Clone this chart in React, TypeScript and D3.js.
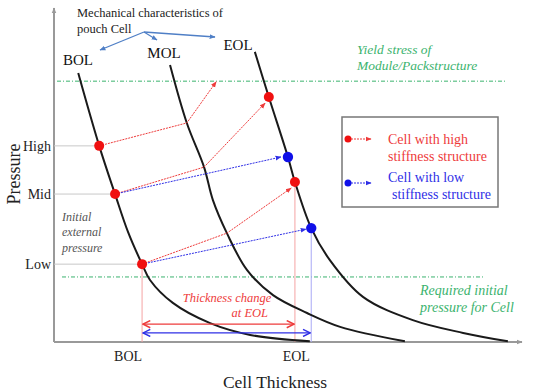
import React from "react";
import * as d3 from "d3";

const W = 542;
const H = 392;

// curves: [thickness, pressure] in chart units (0..100)
const bolCurve: [number, number][] = [
  [5.2, 79.8], [9.7, 58.2], [13.1, 43.9], [15.9, 32.6], [18.9, 23.1],
  [20.6, 18.4], [25.5, 11.6], [33.5, 5.6], [42.1, 2.1], [54.9, 0.2],
];
const molCurve: [number, number][] = [
  [24.9, 82.2], [28.5, 65.0], [32.2, 51.9], [34.1, 42.1], [37.1, 32.3],
  [41.4, 21.4], [47.0, 13.9], [54.3, 8.6], [61.4, 4.5], [75.3, 0.2],
];
const eolCurve: [number, number][] = [
  [43.1, 86.1], [46.1, 72.7], [50.2, 54.9], [51.7, 47.5], [55.2, 33.8],
  [59.2, 24.3], [66.3, 13.4], [77.0, 6.5], [87.8, 2.7], [97.4, 0.2],
];

const levelNames = ["High", "Mid", "Low"];
const levelPressure = [58.2, 43.9, 23.1];
const levelThickness = [9.7, 13.1, 18.9];

const yieldPressure = 77.4;
const requiredPressure = 19.3;

const redPaths: [number, number][][] = [
  [[9.7, 58.2], [28.5, 65.0], [34.8, 77.2]],
  [[13.1, 43.9], [32.2, 51.9], [45.3, 70.9]],
  [[18.9, 23.1], [37.1, 32.3], [50.9, 45.7]],
];
const bluePaths: [number, number][][] = [
  [[13.1, 43.9], [48.7, 54.9]],
  [[18.9, 23.1], [54.1, 33.5]],
];
const redDots: [number, number][] = [[9.7, 58.2], [13.1, 43.9], [18.9, 23.1], [46.1, 72.7], [51.7, 47.5]];
const blueDots: [number, number][] = [[50.2, 54.9], [55.2, 33.8]];

const bolThick = 18.9;
const eolThickHigh = 51.7;
const eolThickLow = 55.2;
const eolPressHigh = 47.5;
const eolPressLow = 33.8;

const xTickLabels = ["BOL", "EOL"];
const xTickPos = [15.9, 52.0];

const RED = "#ee3b3b";
const BLUE = "#2f2fe6";
const GREEN = "#3bb36e";
const SERIF = "Liberation Serif, Times New Roman, Times, serif";

export default function App() {
  const x = d3.scaleLinear().domain([0, 100]).range([54, 520]);
  const y = d3.scaleLinear().domain([0, 100]).range([342, 5]);
  const curve = d3
    .line<[number, number]>()
    .x((d) => x(d[0]))
    .y((d) => y(d[1]))
    .curve(d3.curveCatmullRom.alpha(0.5));
  const poly = d3
    .line<[number, number]>()
    .x((d) => x(d[0]))
    .y((d) => y(d[1]));

  const x0 = x(0);
  const y0 = y(0);

  return (
    <svg width={W} height={H} style={{ position: "absolute", left: 0, top: 0, background: "#fff", fontFamily: SERIF }}>
      <defs>
        {[["redHead", RED], ["blueHead", BLUE], ["grayHead", "#999"], ["steelHead", "#4f7fc6"]].map(([id, c]) => (
          <marker key={id} id={id} viewBox="0 0 10 10" refX="9" refY="5" markerWidth="6" markerHeight="6" orient="auto" markerUnits="userSpaceOnUse">
            <path d="M0,1 L10,5 L0,9 z" fill={c} />
          </marker>
        ))}
        {[["redChev", RED], ["blueChev", BLUE]].map(([id, c]) => (
          <marker key={id} id={id} viewBox="0 0 10 10" refX="9" refY="5" markerWidth="9" markerHeight="9" orient="auto-start-reverse" markerUnits="userSpaceOnUse">
            <path d="M1,1 L9,5 L1,9" fill="none" stroke={c} strokeWidth="1.6" />
          </marker>
        ))}
      </defs>

      {/* axes */}
      <line x1={x0} y1={y0} x2={x0} y2={8} stroke="#999" strokeWidth={2} markerEnd="url(#grayHead)" />
      <line x1={x0} y1={y0} x2={522} y2={y0} stroke="#999" strokeWidth={2} markerEnd="url(#grayHead)" />

      {/* gridlines to pressure levels */}
      {levelNames.map((n, i) => (
        <g key={n}>
          <line x1={x0} x2={x(levelThickness[i])} y1={y(levelPressure[i])} y2={y(levelPressure[i])} stroke="#c8c8c8" strokeWidth={1} />
          <text x={51} y={y(levelPressure[i]) + 5} textAnchor="end" fontSize={14} fill="#222">{n}</text>
        </g>
      ))}

      {/* green reference lines */}
      <line x1={57} x2={505} y1={y(yieldPressure)} y2={y(yieldPressure)} stroke={GREEN} strokeWidth={1} strokeDasharray="4,2,1,2" />
      <line x1={62} x2={484} y1={y(requiredPressure)} y2={y(requiredPressure)} stroke={GREEN} strokeWidth={1} strokeDasharray="4,2,1,2" />

      {/* vertical thickness markers */}
      <line x1={x(bolThick)} x2={x(bolThick)} y1={y(23.1)} y2={y0} stroke="#f5a3a3" strokeWidth={1} />
      <line x1={x(eolThickHigh)} x2={x(eolThickHigh)} y1={y(eolPressHigh)} y2={y0} stroke="#f5a3a3" strokeWidth={1} />
      <line x1={x(eolThickLow)} x2={x(eolThickLow)} y1={y(eolPressLow)} y2={y0} stroke="#a8a8f5" strokeWidth={1} />

      {/* curves */}
      {[bolCurve, molCurve, eolCurve].map((c, i) => (
        <path key={i} d={curve(c) || ""} fill="none" stroke="#1a1a1a" strokeWidth={2} />
      ))}

      {/* arrows */}
      {redPaths.map((p, i) => (
        <path key={"r" + i} d={poly(p) || ""} fill="none" stroke={RED} strokeWidth={1} strokeDasharray="2,1" markerEnd="url(#redHead)" />
      ))}
      {bluePaths.map((p, i) => (
        <path key={"b" + i} d={poly(p) || ""} fill="none" stroke={BLUE} strokeWidth={1} strokeDasharray="2,1" markerEnd="url(#blueHead)" />
      ))}

      {/* thickness change double arrows */}
      <line x1={x(bolThick) + 1} x2={x(eolThickHigh) - 1} y1={y(5.3)} y2={y(5.3)} stroke={RED} strokeWidth={1.4} markerStart="url(#redChev)" markerEnd="url(#redChev)" />
      <line x1={x(bolThick) + 1} x2={x(eolThickLow) - 1} y1={y(2.7)} y2={y(2.7)} stroke={BLUE} strokeWidth={1.4} markerStart="url(#blueChev)" markerEnd="url(#blueChev)" />

      {/* dots */}
      {redDots.map((d, i) => (
        <circle key={"rd" + i} cx={x(d[0])} cy={y(d[1])} r={5} fill="#f01010" />
      ))}
      {blueDots.map((d, i) => (
        <circle key={"bd" + i} cx={x(d[0])} cy={y(d[1])} r={5.2} fill="#1010e8" />
      ))}

      {/* top annotation */}
      <text x={77} y={17} fontSize={12.5} fill="#222" textLength={146} lengthAdjust="spacing">Mechanical characteristics of</text>
      <text x={77} y={33} fontSize={12.5} fill="#222">pouch Cell</text>
      <line x1={144} y1={32} x2={100} y2={50} stroke="#4f7fc6" strokeWidth={1.3} markerEnd="url(#steelHead)" />
      <line x1={144} y1={32} x2={157} y2={40} stroke="#4f7fc6" strokeWidth={1.3} markerEnd="url(#steelHead)" />
      <line x1={144} y1={32} x2={215} y2={37} stroke="#4f7fc6" strokeWidth={1.3} markerEnd="url(#steelHead)" />
      <text x={78} y={65} fontSize={15} textAnchor="middle" fill="#111">BOL</text>
      <text x={164} y={58} fontSize={15} textAnchor="middle" fill="#111">MOL</text>
      <text x={238} y={50} fontSize={15} textAnchor="middle" fill="#111">EOL</text>

      {/* green labels */}
      <text x={357} y={54} fontSize={13.5} fontStyle="italic" fill={GREEN}>Yield stress of</text>
      <text x={357} y={70} fontSize={13.5} fontStyle="italic" fill={GREEN}>Module/Packstructure</text>
      <text x={420} y={295} fontSize={14} fontStyle="italic" fill={GREEN}>Required initial</text>
      <text x={420} y={312} fontSize={14} fontStyle="italic" fill={GREEN}>pressure for Cell</text>

      {/* initial pressure note */}
      <text fontSize={12} fontStyle="italic" fill="#555">
        <tspan x={62} y={221}>Initial</tspan>
        <tspan x={62} y={236}>external</tspan>
        <tspan x={62} y={252}>pressure</tspan>
      </text>

      {/* thickness change label */}
      <text x={227} y={302} fontSize={12.5} fontStyle="italic" fill={RED} textAnchor="middle">Thickness change</text>
      <text x={268} y={317} fontSize={12.5} fontStyle="italic" fill={RED} textAnchor="end">at EOL</text>

      {/* legend */}
      <rect x={342} y={117} width={156} height={90} fill="#fff" stroke="#777" strokeWidth={1.5} />
      <line x1={348} x2={371} y1={139} y2={139} stroke={RED} strokeWidth={1} strokeDasharray="2,1" markerEnd="url(#redHead)" />
      <circle cx={348} cy={139} r={3.5} fill="#f01010" />
      <text x={388} y={144} fontSize={14} fill={RED}>Cell with high</text>
      <text x={388} y={161} fontSize={14} fill={RED}>stiffness structure</text>
      <line x1={348} x2={371} y1={183} y2={183} stroke={BLUE} strokeWidth={1} strokeDasharray="2,1" markerEnd="url(#blueHead)" />
      <circle cx={348} cy={183} r={3.5} fill="#1010e8" />
      <text x={388} y={182} fontSize={14} fill={BLUE}>Cell with low</text>
      <text x={392} y={199} fontSize={14} fill={BLUE}>stiffness structure</text>

      {/* axis titles */}
      {xTickLabels.map((t, i) => (
        <text key={t} x={x(xTickPos[i])} y={361} fontSize={14} textAnchor="middle" fill="#222">{t}</text>
      ))}
      <text x={275} y={388} fontSize={17.5} textAnchor="middle" fill="#222">Cell Thickness</text>
      <text transform="translate(20,174) rotate(-90)" fontSize={18} textAnchor="middle" fill="#222">Pressure</text>
    </svg>
  );
}
